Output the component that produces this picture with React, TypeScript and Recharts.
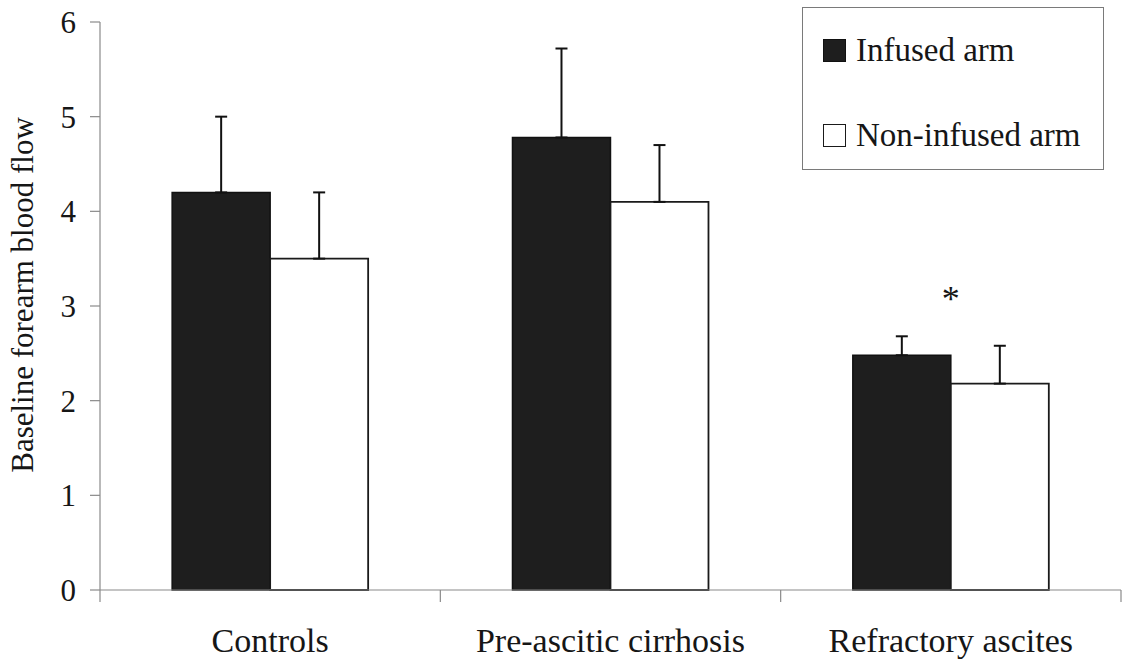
import React from 'react';
import { BarChart, Bar, XAxis, YAxis, ErrorBar, Legend, ReferenceDot } from 'recharts';

// Baseline forearm blood flow by patient group
const categories = ['Controls', 'Pre-ascitic cirrhosis', 'Refractory ascites'];
const infusedArm = [4.2, 4.78, 2.48];
const infusedArmSem = [0.8, 0.94, 0.2];
const nonInfusedArm = [3.5, 4.1, 2.18];
const nonInfusedArmSem = [0.7, 0.6, 0.4];
const yTicks = [0, 1, 2, 3, 4, 5, 6];
// significance marker: group and height of the asterisk
const significantGroup = 'Refractory ascites';
const significantMarkY = 3.14;

const data = categories.map((group, i) => ({
  group,
  infused: infusedArm[i],
  infusedErr: [0, infusedArmSem[i]],
  nonInfused: nonInfusedArm[i],
  nonInfusedErr: [0, nonInfusedArmSem[i]],
}));

const FONT = '"Liberation Serif", "Times New Roman", Times, serif';
const TEXT = '#161616';
const AXIS = '#8a8a8a';

const W = 1125;
const H = 660;
const MARGIN = { top: 22, right: 4, bottom: 0, left: 0 };
const Y_AXIS_W = 100;
const X_AXIS_H = 70;
const BAND = (W - MARGIN.left - MARGIN.right - Y_AXIS_W) / categories.length;

const seriesStyle: Record<string, { fill: string; stroke: string }> = {
  infused: { fill: '#1e1e1e', stroke: '#111' },
  nonInfused: { fill: '#ffffff', stroke: '#1a1a1a' },
};

// Category label centred in its band, with tick marks on the band edges
const CategoryTick = (props: any) => {
  const { x, y, payload, index } = props;
  const half = payload && payload.offset ? payload.offset : BAND / 2;
  const last = index === categories.length - 1;
  return (
    <g>
      <line x1={x - half} y1={y} x2={x - half} y2={y + 12} stroke={AXIS} strokeWidth={1.2} />
      {last && <line x1={x + half} y1={y} x2={x + half} y2={y + 12} stroke={AXIS} strokeWidth={1.2} />}
      <text x={x} y={y + 62} textAnchor="middle" fontFamily={FONT} fontSize={34} fill={TEXT}>
        {payload.value}
      </text>
    </g>
  );
};

const YTitle = (props: any) => {
  const vb = props.viewBox || { x: 0, y: 22, height: 568 };
  const cx = vb.x + 33;
  const cy = vb.y + vb.height / 2 - 11;
  return (
    <text
      x={cx}
      y={cy}
      transform={`rotate(-90, ${cx}, ${cy})`}
      textAnchor="middle"
      fontFamily={FONT}
      fontSize={31}
      fill={TEXT}
    >
      Baseline forearm blood flow
    </text>
  );
};

const Asterisk = (props: any) => {
  const { cx, cy } = props;
  return (
    <text x={cx} y={cy + 18} textAnchor="middle" fontFamily={FONT} fontSize={36} fill={TEXT}>
      *
    </text>
  );
};

const LegendBox = (props: any) => {
  const payload = props.payload || [];
  return (
    <div
      style={{
        width: 302,
        height: 163,
        boxSizing: 'border-box',
        border: '1.5px solid #7a7a7a',
        background: '#fff',
        position: 'relative',
        fontFamily: FONT,
      }}
    >
      {payload.map((item: any, i: number) => {
        const st = seriesStyle[item.dataKey] || { fill: item.color, stroke: '#111' };
        return (
          <div
            key={item.value}
            style={{
              position: 'absolute',
              left: 20,
              top: 26 + i * 85,
              height: 33,
              display: 'flex',
              alignItems: 'center',
              whiteSpace: 'nowrap',
            }}
          >
            <span
              style={{
                display: 'inline-block',
                width: 23,
                height: 23,
                boxSizing: 'border-box',
                background: st.fill,
                border: `1.5px solid ${st.stroke}`,
              }}
            />
            <span style={{ marginLeft: 10, fontSize: 33, lineHeight: '33px', color: TEXT }}>{item.value}</span>
          </div>
        );
      })}
    </div>
  );
};

export default function App() {
  return (
    <div style={{ position: 'absolute', left: 0, top: 0, width: W, height: H, background: '#fff' }}>
      <BarChart
        width={W}
        height={H}
        data={data}
        margin={MARGIN}
        barGap={0}
        barCategoryGap="21.2%"
      >
        <XAxis
          dataKey="group"
          height={X_AXIS_H}
          axisLine={{ stroke: AXIS, strokeWidth: 1.2 }}
          tickLine={false}
          tickSize={0}
          tickMargin={0}
          tick={<CategoryTick />}
          interval={0}
        />
        <YAxis
          width={Y_AXIS_W}
          domain={[0, 6]}
          ticks={yTicks}
          interval={0}
          axisLine={{ stroke: AXIS, strokeWidth: 1.2 }}
          tickLine={{ stroke: AXIS, strokeWidth: 1.2 }}
          tickSize={10}
          tickMargin={14}
          tick={{ fontFamily: FONT, fontSize: 31, fill: TEXT }}
          label={{ content: (p: any) => <YTitle {...p} /> }}
        />
        <Legend
          layout="vertical"
          align="center"
          verticalAlign="middle"
          content={<LegendBox />}
          wrapperStyle={{ left: 802, top: 7, width: 302, height: 163 }}
        />
        <Bar
          dataKey="infused"
          name="Infused arm"
          fill={seriesStyle.infused.fill}
          stroke={seriesStyle.infused.stroke}
          strokeWidth={1.5}
          isAnimationActive={false}
        >
          <ErrorBar dataKey="infusedErr" width={6} stroke="#111" strokeWidth={2} isAnimationActive={false} />
        </Bar>
        <Bar
          dataKey="nonInfused"
          name="Non-infused arm"
          fill={seriesStyle.nonInfused.fill}
          stroke={seriesStyle.nonInfused.stroke}
          strokeWidth={1.8}
          isAnimationActive={false}
        >
          <ErrorBar dataKey="nonInfusedErr" width={6} stroke="#111" strokeWidth={2} isAnimationActive={false} />
        </Bar>
        <ReferenceDot x={significantGroup} y={significantMarkY} r={0} shape={<Asterisk />} ifOverflow="visible" />
      </BarChart>
    </div>
  );
}
